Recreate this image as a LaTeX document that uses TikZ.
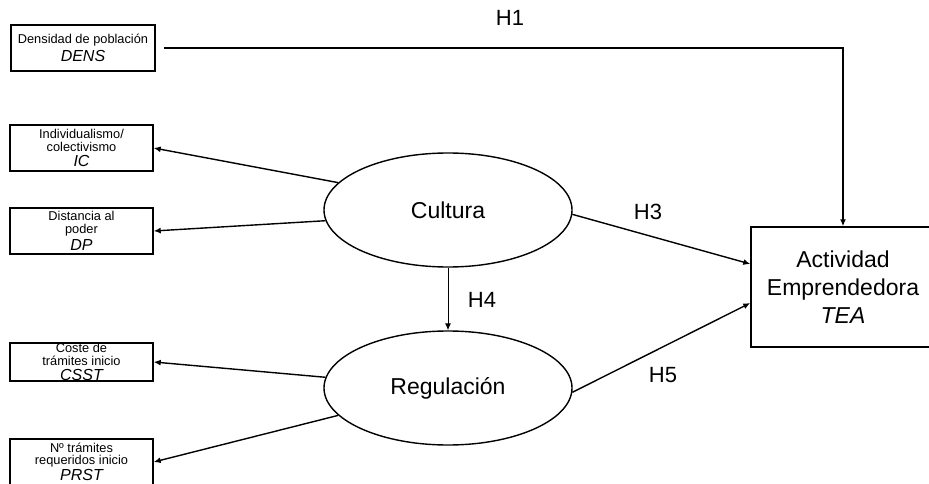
\documentclass[tikz,border=0pt]{standalone}
\usepackage{fontspec}
\setmainfont{Liberation Sans}
\usetikzlibrary{shapes.geometric,arrows.meta}
\newcommand{\vcode}[1]{{\fontsize{16}{13}\selectfont\itshape #1}}

\begin{document}
\begin{tikzpicture}[x=1pt,y=-1pt,
    ind/.style={draw,line width=1.4pt,minimum width=143pt,minimum height=46pt,
      inner sep=0pt,align=center,font=\fontsize{12.8}{12.5}\selectfont},
    lat/.style={draw,ellipse,line width=1.4pt,minimum width=248pt,
      minimum height=114pt,inner sep=0pt,font=\fontsize{23}{28}\selectfont},
    hyp/.style={font=\fontsize{22}{26}\selectfont}]
      \useasboundingbox (0,0) rectangle (929,484);
      \draw
        (83,48) node[ind,minimum width=144pt] (dens){Densidad de población\\[3pt]\vcode{DENS}}
        (81.5,148) node[ind] (ic){Individualismo/\\colectivismo\\[2.5pt]\vcode{IC}}
        (81.5,231) node[ind] (dp){Distancia al\\poder\\[2.5pt]\vcode{DP}}
        (81.5,362) node[ind,minimum height=38pt] (csst){Coste de\\trámites inicio\\[2.5pt]\vcode{CSST}}
        (81.5,462) node[ind,minimum height=46pt] (prst){Nº trámites\\requeridos inicio\\[1pt]\vcode{PRST}}
        (448,210) node[lat] (cult){Cultura}
        (448,388) node[lat] (reg){Regulación}
        (843,287) node[draw,line width=1.4pt,minimum width=184pt,minimum height=120pt,
          align=center,font=\fontsize{23}{28}\selectfont] (tea){Actividad\\Emprendedora\\\textit{TEA}};
      \draw
        (510,18) node[hyp] (h1){H1}
        (648,212) node[hyp] (h3){H3}
        (482,300) node[hyp] (h4){H4}
        (663,375) node[hyp] (h5){H5};
      \begin{scope}[-{Latex[length=7pt,width=6pt]},line width=1.4pt]
        \draw (cult.166) to (ic.east);
        \draw (cult.185) to (dp.east);
        \draw (reg.175) to (csst.east);
        \draw (reg.194) to (prst.east);
        \draw[shorten <=8pt] (dens.east) -| (tea.north);
        \draw (cult.-2) to ([yshift=23pt]tea.west);
        \draw (reg.-2) to ([yshift=-16pt]tea.west);
        \draw[line width=1pt] (cult.south) to (reg.north);
      \end{scope}
    \end{tikzpicture}
\end{document}
